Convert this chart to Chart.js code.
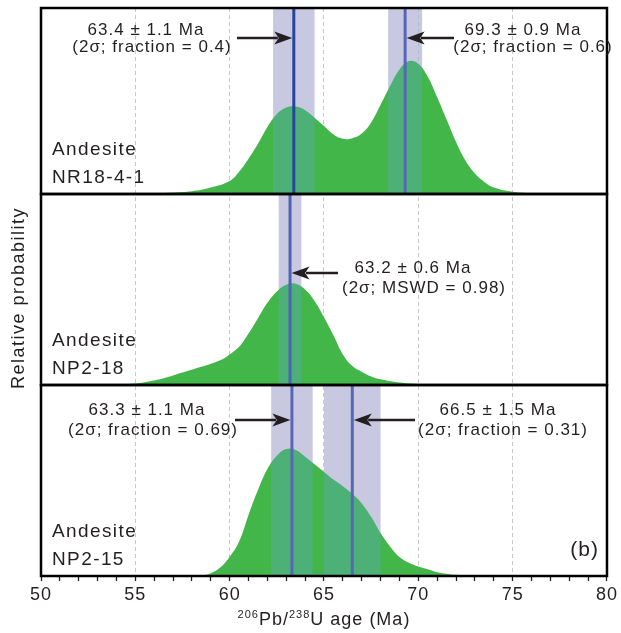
<!DOCTYPE html>
<html>
<head>
<meta charset="utf-8">
<script src="https://cdn.jsdelivr.net/npm/chart.js@4.4.0/dist/chart.umd.min.js"></script>
<style>
  html, body { margin: 0; background: #fff; }
  #wrap { width: 621px; height: 633px; position: relative; }
</style>
</head>
<body>
<div id="wrap"><canvas id="ageChart"></canvas></div>
<script>
// probability density curves, age (Ma) vs relative probability
const agesNR = [50, 54, 56, 57, 58, 59, 60, 60.5, 61, 61.5, 62, 62.5, 63, 63.5, 64, 64.5, 65, 65.5, 66, 66.5, 67, 67.5, 68, 68.5, 69, 69.5, 70, 70.5, 71, 71.5, 72, 72.5, 73, 73.5, 74, 75, 76, 77, 80];
const probNR = [0, 0, 0.003, 0.008, 0.015, 0.035, 0.07, 0.12, 0.19, 0.27, 0.36, 0.43, 0.465, 0.47, 0.45, 0.41, 0.365, 0.32, 0.297, 0.3, 0.325, 0.385, 0.48, 0.58, 0.67, 0.715, 0.70, 0.63, 0.52, 0.40, 0.28, 0.18, 0.11, 0.065, 0.035, 0.012, 0.004, 0, 0];

const agesNP18 = [50, 53.5, 54.5, 55.5, 56.5, 57.5, 58.5, 59.5, 60, 60.5, 61, 61.5, 62, 62.5, 63, 63.5, 64, 64.5, 65, 65.5, 66, 66.5, 67, 67.5, 68, 69, 70, 71, 80];
const probNP18 = [0, 0, 0.005, 0.015, 0.035, 0.065, 0.095, 0.13, 0.16, 0.2, 0.27, 0.35, 0.43, 0.49, 0.525, 0.53, 0.5, 0.44, 0.355, 0.26, 0.16, 0.10, 0.07, 0.045, 0.03, 0.013, 0.005, 0, 0];

const agesNP15 = [50, 57.5, 58.5, 59, 59.5, 60, 60.5, 61, 61.5, 62, 62.5, 63, 63.5, 64, 64.5, 65, 65.5, 66, 66.5, 67, 67.5, 68, 68.5, 69, 69.5, 70, 70.5, 71, 72, 73, 80];
const probNP15 = [0, 0, 0.004, 0.015, 0.045, 0.1, 0.18, 0.32, 0.45, 0.56, 0.63, 0.665, 0.66, 0.625, 0.585, 0.545, 0.505, 0.47, 0.43, 0.38, 0.31, 0.225, 0.155, 0.1, 0.07, 0.05, 0.035, 0.02, 0.006, 0, 0];

// sample names
const rockNames = ['Andesite', 'Andesite', 'Andesite'];
const sampleNames = ['NR18-4-1', 'NP2-18', 'NP2-15'];

// weighted mean ages and 2σ errors
const meanAgesNR = [63.4, 69.3];
const errorsNR = [1.1, 0.9];
const statsNR = ['(2σ; fraction = 0.4)', '(2σ; fraction = 0.6)'];

const meanAgesNP18 = [63.2];
const errorsNP18 = [0.6];
const statsNP18 = ['(2σ; MSWD = 0.98)'];

const meanAgesNP15 = [63.3, 66.5];
const errorsNP15 = [1.1, 1.5];
const statsNP15 = ['(2σ; fraction = 0.69)', '(2σ; fraction = 0.31)'];

const xTicks = [50, 55, 60, 65, 70, 75, 80];

const TEXT = '#231f20';
const FONT = "'Liberation Sans', Arial, sans-serif";

const panels = [
    { axis: 'yNR', ages: meanAgesNR, errors: errorsNR, stats: statsNR, lineColors: ['#26459b', '#5767b8'],
      notes: [{ tail: 237, arrow: 30, cx: [146, 152], base: [27, 44] },
              { tail: 454, arrow: 30, cx: [523, 533], base: [27, 44] }] },
    { axis: 'yNP18', ages: meanAgesNP18, errors: errorsNP18, stats: statsNP18, lineColors: ['#4d63b3'],
      notes: [{ tail: 338, arrow: 79, cx: [413, 424], base: [79, 99] }] },
    { axis: 'yNP15', ages: meanAgesNP15, errors: errorsNP15, stats: statsNP15, lineColors: ['#5767b8', '#5767b8'],
      notes: [{ tail: 235, arrow: 35, cx: [147, 153], base: [30, 50] },
              { tail: 415, arrow: 35, cx: [498, 503], base: [30, 50] }] }
];

function curve(ages, probs) {
    return ages.map((a, i) => ({ x: a, y: probs[i] }));
}

function spacedText(ctx, text, x, y, size, align) {
    ctx.font = size + 'px ' + FONT;
    ctx.textAlign = align || 'center';
    ctx.fillText(text, x, y);
}

function drawArrow(ctx, x0, x1, y) {
    const dir = x1 > x0 ? 1 : -1;
    const head = 18;
    ctx.strokeStyle = TEXT;
    ctx.fillStyle = TEXT;
    ctx.lineWidth = 2.5;
    ctx.beginPath();
    ctx.moveTo(x0, y);
    ctx.lineTo(x1 - dir * head * 0.8, y);
    ctx.stroke();
    ctx.beginPath();
    ctx.moveTo(x1, y);
    ctx.lineTo(x1 - dir * head, y - 6.5);
    ctx.lineTo(x1 - dir * head * 0.75, y);
    ctx.lineTo(x1 - dir * head, y + 6.5);
    ctx.closePath();
    ctx.fill();
}

// canvas state is reset on resize, so letter spacing is reapplied before layout and draw
const spacing = {
    id: 'spacing',
    beforeLayout(chart) { chart.ctx.letterSpacing = '1px'; },
    beforeDraw(chart) { chart.ctx.letterSpacing = '1px'; }
};

const ageBands = {
    id: 'ageBands',
    afterDatasetsDraw(chart) {
        const { ctx } = chart;
        const x = chart.scales.x;
        panels.forEach(p => {
            const y = chart.scales[p.axis];
            p.ages.forEach((age, i) => {
                const l = x.getPixelForValue(age - p.errors[i]);
                const r = x.getPixelForValue(age + p.errors[i]);
                ctx.save();
                // tint the density fill inside the 2σ band
                ctx.globalCompositeOperation = 'source-atop';
                ctx.fillStyle = 'rgba(95, 165, 215, 0.32)';
                ctx.fillRect(l, y.top, r - l, y.bottom - y.top);
                // band colour behind the curve
                ctx.globalCompositeOperation = 'destination-over';
                ctx.fillStyle = '#c8c8e1';
                ctx.fillRect(l, y.top, r - l, y.bottom - y.top);
                ctx.restore();
            });
            p.ages.forEach((age, i) => {
                const px = x.getPixelForValue(age);
                ctx.save();
                ctx.strokeStyle = p.lineColors[i];
                ctx.lineWidth = 3;
                ctx.beginPath();
                ctx.moveTo(px, y.top);
                ctx.lineTo(px, y.bottom);
                ctx.stroke();
                ctx.restore();
            });
        });
    },
    afterDraw(chart) {
        const { ctx, chartArea } = chart;
        const x = chart.scales.x;
        ctx.save();
        ctx.letterSpacing = '1px';
        ctx.fillStyle = TEXT;
        ctx.textBaseline = 'alphabetic';

        panels.forEach((p, k) => {
            const y = chart.scales[p.axis];
            ctx.strokeStyle = '#000';
            ctx.lineWidth = 2.5;
            ctx.strokeRect(chartArea.left, y.top, chartArea.right - chartArea.left, y.bottom - y.top);

            p.notes.forEach((n, i) => {
                const tip = x.getPixelForValue(p.ages[i]);
                const dir = tip > n.tail ? -1 : 1;
                drawArrow(ctx, n.tail, tip + dir * 1.5, y.top + n.arrow);
                ctx.fillStyle = TEXT;
                spacedText(ctx, `${p.ages[i].toFixed(1)} ± ${p.errors[i].toFixed(1)} Ma`, n.cx[0], y.top + n.base[0], 17);
                spacedText(ctx, p.stats[i], n.cx[1], y.top + n.base[1], 17);
            });

            ctx.letterSpacing = '1.4px';
            spacedText(ctx, rockNames[k], chartArea.left + 11, y.bottom - 39, 19, 'left');
            spacedText(ctx, sampleNames[k], chartArea.left + 11, y.bottom - 11, 19, 'left');
            ctx.letterSpacing = '1px';
        });

        const last = chart.scales.yNP15;
        spacedText(ctx, '(b)', chartArea.right - 8, last.bottom - 20, 21, 'right');

        // y axis title
        ctx.save();
        ctx.translate(19, (chartArea.top + chartArea.bottom) / 2 + 6);
        ctx.rotate(-Math.PI / 2);
        ctx.letterSpacing = '1.5px';
        ctx.textBaseline = 'middle';
        spacedText(ctx, 'Relative probability', 0, 0, 18);
        ctx.restore();

        // x axis title with superscript isotope masses
        const parts = [['206', 11, -7], ['Pb/', 18, 0], ['238', 11, -7], ['U age (Ma)', 18, 0]];
        let total = 0;
        parts.forEach(s => { ctx.font = s[1] + 'px ' + FONT; total += ctx.measureText(s[0]).width; });
        let cx = (chartArea.left + chartArea.right) / 2 - total / 2;
        const base = 625;
        ctx.textAlign = 'left';
        parts.forEach(s => {
            ctx.font = s[1] + 'px ' + FONT;
            ctx.fillText(s[0], cx, base + s[2]);
            cx += ctx.measureText(s[0]).width;
        });
        ctx.restore();
    }
};

const densityStyle = {
    backgroundColor: '#43b649',
    borderWidth: 0,
    pointRadius: 0,
    fill: 'origin',
    tension: 0.4
};

const ageChart = new Chart(document.getElementById('ageChart'), {
    type: 'line',
    data: {
        datasets: [
            { ...densityStyle, label: sampleNames[0], data: curve(agesNR, probNR), yAxisID: 'yNR' },
            { ...densityStyle, label: sampleNames[1], data: curve(agesNP18, probNP18), yAxisID: 'yNP18' },
            { ...densityStyle, label: sampleNames[2], data: curve(agesNP15, probNP15), yAxisID: 'yNP15' }
        ]
    },
    options: {
        responsive: true,
        maintainAspectRatio: false,
        animation: false,
        layout: { padding: { left: 41, right: 9, top: 8, bottom: 17 } },
        plugins: { legend: { display: false }, tooltip: { enabled: false } },
        scales: {
            x: {
                type: 'linear',
                min: 50,
                max: 80,
                afterFit(scale) { scale.height = 40; },
                ticks: {
                    stepSize: 1,
                    autoSkip: false,
                    maxRotation: 0,
                    padding: 3,
                    color: TEXT,
                    font: { family: FONT, size: 18 },
                    callback: v => xTicks.includes(v) ? String(v) : ''
                },
                grid: {
                    color: c => (c.tick && c.tick.value % 5 === 0 && c.tick.value > 50 && c.tick.value < 80) ? '#c8c8c8' : 'rgba(0,0,0,0)',
                    lineWidth: 1,
                    tickColor: TEXT,
                    tickLength: 5,
                    tickWidth: 1.3,
                    tickBorderDash: []
                },
                border: { display: false, dash: [4, 3] }
            },
            yNP15: { type: 'linear', display: false, min: 0, max: 1, stack: 'panels', stackWeight: 191 },
            yNP18: { type: 'linear', display: false, min: 0, max: 1, stack: 'panels', stackWeight: 191 },
            yNR: { type: 'linear', display: false, min: 0, max: 1, stack: 'panels', stackWeight: 186 }
        }
    },
    plugins: [spacing, ageBands]
});
</script>
</body>
</html>
